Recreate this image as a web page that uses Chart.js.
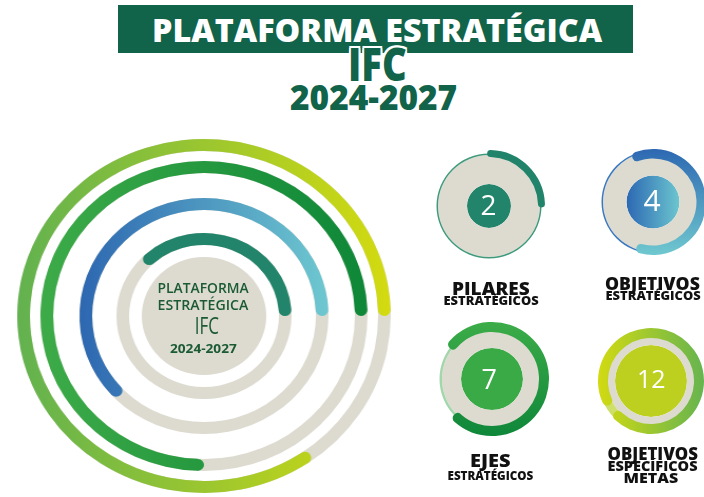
<!DOCTYPE html>
<html>
<head>
<meta charset="utf-8">
<script src="https://cdn.jsdelivr.net/npm/chart.js@4.4.1/dist/chart.umd.min.js"></script>
<style>
  html, body { margin: 0; padding: 0; background: #fff; }
  #stage { position: relative; width: 704px; height: 497px; overflow: hidden; background: #fff; }
  #banner { position: absolute; left: 118px; top: 5px; width: 515px; height: 48px; background: #11634a; }
  .layer { position: absolute; }
  .txt { position: absolute; white-space: nowrap; line-height: 1; font-family: 'Open Sans', 'DejaVu Sans', sans-serif; transform-origin: 50% 0; }
</style>
</head>
<body>
<div id="stage"><div id="banner"></div></div>
<script>
// ---- data ----
// big concentric rings, outermost first
const ringNames = ['Objetivos específicos / metas', 'Ejes estratégicos', 'Objetivos estratégicos', 'Pilares estratégicos'];
const ringShare = [85, 75, 62.5, 38];          // % of each ring that is coloured

// small indicators (right side)
const kpiValues = [2, 4, 7, 12];
const kpiShare = [26, 62.5, 78, 97];             // % of the outer arc that is coloured
const kpiTitles = [
  ['PILARES', 'ESTRATÉGICOS'],
  ['OBJETIVOS', 'ESTRATÉGICOS'],
  ['EJES', 'ESTRATÉGICOS'],
  ['OBJETIVOS', 'ESPECÍFICOS', 'METAS']
];

const headline = ['PLATAFORMA ESTRATÉGICA', 'IFC', '2024-2027'];
const centreLines = ['PLATAFORMA', 'ESTRATÉGICA', 'IFC', '2024-2027'];

// ---- helpers ----
const stage = document.getElementById('stage');
const GREY = '#dddbd0';

function makeCanvas(cx, cy, size, stretch) {
  const c = document.createElement('canvas');
  c.width = size; c.height = size;
  c.className = 'layer';
  c.style.left = (cx - size / 2) + 'px';
  c.style.top = (cy - size / 2) + 'px';
  c.style.width = size + 'px';
  c.style.height = size + 'px';
  if (stretch) c.style.transform = 'scaleX(' + stretch + ')';
  stage.appendChild(c);
  return c;
}

// linear gradient across a circle of radius r around the chart centre
function linGrad(dir, c0, c1, r) {
  return (ctx) => {
    const chart = ctx.chart, a = chart.chartArea;
    if (!a) return c0;
    const cx = (a.left + a.right) / 2, cy = (a.top + a.bottom) / 2;
    const g = dir === 'h'
      ? chart.ctx.createLinearGradient(cx - r, 0, cx + r, 0)
      : chart.ctx.createLinearGradient(0, cy - r, 0, cy + r);
    g.addColorStop(0, c0);
    g.addColorStop(1, c1);
    return g;
  };
}

function donut(canvas, datasets, radius, rotation, cutout) {
  return new Chart(canvas, {
    type: 'doughnut',
    data: { labels: ['a', 'b'], datasets },
    options: {
      responsive: false,
      animation: false,
      events: [],
      radius: radius,
      rotation: rotation || 0,
      cutout: cutout || '0%',
      layout: { padding: 0 },
      elements: { arc: { borderWidth: 0 } },
      plugins: { legend: { display: false }, tooltip: { enabled: false } }
    }
  });
}

/* ---------------------------
   Main rings
   --------------------------- */
const MAIN = { cx: 204, cy: 316, size: 360, radius: 177, stretch: 1.055 };
const ringWidth = 12;
const ringGaps = [10, 25, 23, 12];
const discR = 59;
const ringColors = [['#62b250', '#d4db0f'], ['#3dab48', '#0e8738'], ['#2d67b1', '#6ec8d0'], ['#22846b', '#22846b']];

function mainDatasets(top) {
  const sets = [];
  let r = MAIN.radius;
  ringShare.forEach((share, i) => {
    const grad = linGrad('h', ringColors[i][0], ringColors[i][1], r);
    if (top) {
      sets.push({
        label: ringNames[i], data: [100 - share, share], weight: ringWidth,
        backgroundColor: ctx => ctx.dataIndex === 1 ? grad(ctx) : 'rgba(0,0,0,0)',
        borderRadius: ctx => ctx.dataIndex === 1 ? ringWidth / 2 : 0
      });
    } else {
      sets.push({ label: ringNames[i], data: [100], weight: ringWidth, backgroundColor: GREY });
    }
    sets.push({ data: [1], weight: ringGaps[i], backgroundColor: 'rgba(0,0,0,0)' });
    r -= ringWidth + ringGaps[i];
  });
  sets.push({ data: [1], weight: discR, backgroundColor: top ? 'rgba(0,0,0,0)' : GREY });
  return sets;
}

donut(makeCanvas(MAIN.cx, MAIN.cy, MAIN.size, MAIN.stretch), mainDatasets(false), MAIN.radius, 90);
donut(makeCanvas(MAIN.cx, MAIN.cy, MAIN.size, MAIN.stretch), mainDatasets(true), MAIN.radius, 90);

/* ---------------------------
   Small indicators
   --------------------------- */
const kpiLayout = [
  { cx: 488.5, cy: 205.5, arc: [49, 56], rot: -2, arcFill: ['v', '#21846a', '#21846a'],
    rim: [51, 52.5, '#3f9a7c'], core: 22, coreFill: ['h', '#22856b', '#22856b'] },
  { cx: 652.5, cy: 202, arc: [43.5, 53], rot: -25, arcFill: ['v', '#2d68b2', '#6fc8cf'],
    rim: [50, 51.5, '#3b78bf'], core: 26.5, coreFill: ['h', '#2c68b3', '#6cc6cf'] },
  { cx: 492, cy: 379, arc: [47, 57], rot: -54, arcFill: ['v', '#3cac48', '#0f873a'],
    rim: [50, 52.5, '#a3d6ab'], core: 31, coreFill: ['h', '#3aaa47', '#3aaa47'] },
  { cx: 651, cy: 381, arc: [43, 53], rot: 240, arcFill: ['h', '#d2da12', '#66b44f'],
    rim: [44, 52, '#cfe06a'], core: 36, coreFill: ['h', '#bdd020', '#bdd020'] }
];

kpiValues.forEach((v, i) => {
  const L = kpiLayout[i];
  const size = 124;
  const [rimIn, rimOut, rimColor] = L.rim;
  // base: rim, grey band, coloured core
  donut(makeCanvas(L.cx, L.cy, size), [
    { data: [1], weight: rimOut - rimIn, backgroundColor: rimColor },
    { data: [1], weight: rimIn - L.core, backgroundColor: GREY },
    { data: [1], weight: L.core, backgroundColor: linGrad(L.coreFill[0], L.coreFill[1], L.coreFill[2], L.core) }
  ], rimOut, 0);
  // top: progress arc
  const [aIn, aOut] = L.arc;
  const grad = linGrad(L.arcFill[0], L.arcFill[1], L.arcFill[2], aOut);
  donut(makeCanvas(L.cx, L.cy, size), [{
    label: kpiTitles[i].join(' '),
    data: [kpiShare[i], 100 - kpiShare[i]],
    backgroundColor: ctx => ctx.dataIndex === 0 ? grad(ctx) : 'rgba(0,0,0,0)',
    borderRadius: ctx => ctx.dataIndex === 0 ? (aOut - aIn) / 2 : 0
  }], aOut, L.rot, (aIn / aOut * 100) + '%');
});

/* ---------------------------
   Text
   --------------------------- */
function label(text, o) {
  const el = document.createElement('div');
  el.className = 'txt';
  el.textContent = text;
  el.style.fontSize = o.fs + 'px';
  el.style.fontWeight = o.w || 700;
  el.style.color = o.c;
  el.style.top = (o.cap - 0.174 * o.fs) + 'px';
  if (o.shadow) el.style.textShadow = o.shadow;
  stage.appendChild(el);
  const nat = el.offsetWidth;
  el.style.left = (o.x - nat / 2) + 'px';
  if (o.width) el.style.transform = 'scaleX(' + (o.width / nat) + ')';
  return el;
}

const outline = '-2px 0 #fff, 2px 0 #fff, 0 -2px #fff, 0 2px #fff, -2px -2px #fff, 2px 2px #fff, -2px 2px #fff, 2px -2px #fff';
label(headline[0], { x: 377, cap: 20, fs: 32, w: 800, c: '#ffffff', width: 450 });
label(headline[1], { x: 377.5, cap: 48.5, fs: 46, w: 800, c: '#11634a', width: 59, shadow: outline });
label(headline[2], { x: 373.5, cap: 85, fs: 35, w: 800, c: '#11634a', width: 167, shadow: outline });

const dark = '#1b5a33';
label(centreLines[0], { x: 203, cap: 283.5, fs: 14, w: 600, c: dark, width: 91 });
label(centreLines[1], { x: 203, cap: 300, fs: 14, w: 600, c: dark, width: 91 });
label(centreLines[2], { x: 207, cap: 318.5, fs: 23.5, w: 500, c: dark, width: 24.5 });
label(centreLines[3], { x: 203.5, cap: 345, fs: 12, w: 700, c: dark, width: 67 });

const ink = '#111';
label(kpiTitles[0][0], { x: 491, cap: 282, fs: 18, w: 800, c: ink, width: 78 });
label(kpiTitles[0][1], { x: 490.5, cap: 297, fs: 12.5, w: 800, c: ink, width: 95 });
label(kpiTitles[1][0], { x: 652.5, cap: 277, fs: 18, w: 800, c: ink, width: 95 });
label(kpiTitles[1][1], { x: 652.5, cap: 292, fs: 12.5, w: 800, c: ink, width: 95 });
label(kpiTitles[2][0], { x: 490, cap: 455, fs: 17, w: 800, c: ink, width: 40 });
label(kpiTitles[2][1], { x: 490, cap: 472, fs: 11.5, w: 800, c: ink, width: 86 });
label(kpiTitles[3][0], { x: 652, cap: 448, fs: 17, w: 800, c: ink, width: 90 });
label(kpiTitles[3][1], { x: 652, cap: 461.5, fs: 14, w: 800, c: ink, width: 90 });
label(kpiTitles[3][2], { x: 650.5, cap: 473.5, fs: 14, w: 800, c: ink, width: 55 });

const numPos = [[488.5, 195, 28], [652, 190, 30], [489, 369.5, 27], [651.5, 370, 25]];
kpiValues.forEach((v, i) => {
  const [x, cap, fs] = numPos[i];
  label(String(v), { x, cap, fs, w: 400, c: '#ffffff' });
});
</script>
</body>
</html>
